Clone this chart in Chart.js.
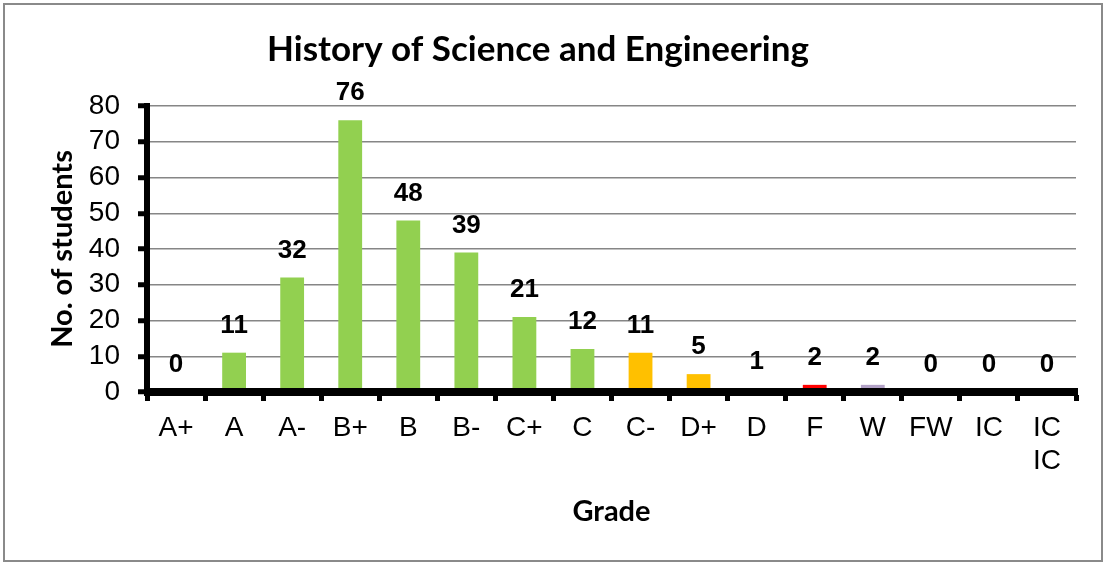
<!DOCTYPE html>
<html>
<head>
<meta charset="utf-8">
<script src="https://cdn.jsdelivr.net/npm/chart.js@4/dist/chart.umd.min.js"></script>
<style>
  html, body { margin: 0; padding: 0; background: #fff; }
  #wrap { width: 1106px; height: 563px; }
</style>
</head>
<body>
<div id="wrap"><canvas id="myChart" width="1106" height="563"></canvas></div>
<script>
// data
const grades = ['A+', 'A', 'A-', 'B+', 'B', 'B-', 'C+', 'C', 'C-', 'D+', 'D', 'F', 'W', 'FW', 'IC', ['IC', 'IC']]
const students = [0, 11, 32, 76, 48, 39, 21, 12, 11, 5, 1, 2, 2, 0, 0, 0]
const barColors = [
  '#92D050', '#92D050', '#92D050', '#92D050', '#92D050', '#92D050', '#92D050', '#92D050',
  '#FFC000', '#FFC000', '#FFC000', '#FF0000', '#B3A2C7', '#92D050', '#92D050', '#92D050'
]
const yTicks = [0, 10, 20, 30, 40, 50, 60, 70, 80]

// white bg + grey frame
const frame = {
  id: 'frame',
  beforeDraw(chart) {
    const c = chart.ctx
    c.save()
    c.fillStyle = '#fff'
    c.fillRect(0, 0, chart.width, chart.height)
    c.strokeStyle = '#8a8a8a'
    c.lineWidth = 2
    c.strokeRect(4, 4, 1098, 557)
    c.restore()
  }
}

// x axis line goes over the bars (like excel), then value labels
const barLabels = {
  id: 'barLabels',
  afterDatasetsDraw(chart) {
    const c = chart.ctx
    const area = chart.chartArea
    const y0 = chart.scales.y.getPixelForValue(0)
    c.save()
    c.strokeStyle = '#000'
    c.lineWidth = 8
    c.beginPath()
    c.moveTo(area.left - 3, y0)
    c.lineTo(area.right + 2, y0)
    c.stroke()

    const meta = chart.getDatasetMeta(0)
    c.font = 'bold 26px "Liberation Sans", Arial, sans-serif'
    c.fillStyle = '#000'
    c.textAlign = 'center'
    c.textBaseline = 'middle'
    meta.data.forEach((bar, i) => {
      c.fillText(String(students[i]), bar.x, bar.y - 27)
    })
    c.restore()
  }
}

const ctx = document.getElementById('myChart')
new Chart(ctx, {
  type: 'bar',
  data: {
    labels: grades,
    datasets: [{
      data: students,
      backgroundColor: barColors,
      borderWidth: 0,
      barPercentage: 0.41,
      categoryPercentage: 1
    }]
  },
  options: {
    responsive: false,
    animation: false,
    layout: { padding: { left: 0, right: 30, top: 0, bottom: 21 } },
    plugins: {
      legend: { display: false },
      tooltip: { enabled: false },
      title: {
        display: true,
        text: 'History of Science and Engineering',
        color: '#000',
        font: { family: 'Lato, "Open Sans", sans-serif', size: 35, weight: 'bold', lineHeight: 1.2 },
        padding: { top: 29, bottom: 35 }
      }
    },
    scales: {
      x: {
        grid: {
          offset: true,
          drawOnChartArea: false,
          tickColor: '#000',
          tickWidth: 5,
          tickLength: 9
        },
        border: { color: '#000', width: 6 },
        ticks: {
          color: '#000',
          autoSkip: false,
          maxRotation: 0,
          padding: 10,
          font: { family: '"Liberation Sans", Arial, sans-serif', size: 28, lineHeight: 1.2 }
        },
        title: {
          display: true,
          text: 'Grade',
          color: '#000',
          font: { family: 'Lato, "Open Sans", sans-serif', size: 29, weight: 'bold', lineHeight: 1.2 },
          padding: { top: 0, bottom: 13 }
        },
        afterFit(scale) { scale.height = 150 }
      },
      y: {
        min: 0,
        max: 80,
        afterBuildTicks(scale) { scale.ticks = yTicks.map(v => ({ value: v })) },
        grid: {
          color: '#868686',
          lineWidth: 1.5,
          tickColor: '#000',
          tickWidth: 5,
          tickLength: 9
        },
        border: { color: '#000', width: 6 },
        ticks: {
          color: '#000',
          padding: 18,
          font: { family: '"Liberation Sans", Arial, sans-serif', size: 28, lineHeight: 1 }
        },
        title: {
          display: true,
          text: 'No. of students',
          color: '#000',
          font: { family: 'Lato, "Open Sans", sans-serif', size: 29, weight: 'bold', lineHeight: 1.2 },
          padding: { top: 45, bottom: 0 }
        },
        afterFit(scale) { scale.width = 147 }
      }
    }
  },
  plugins: [frame, barLabels]
})
</script>
</body>
</html>
